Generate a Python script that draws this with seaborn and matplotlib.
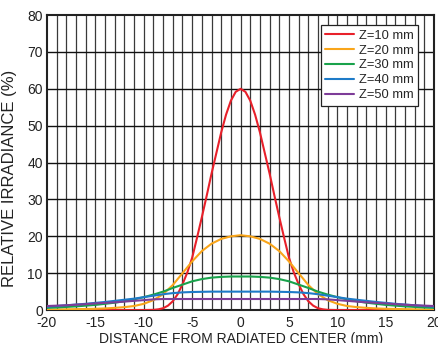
import numpy as np
import pandas as pd
import matplotlib
matplotlib.use("Agg")
import matplotlib.pyplot as plt
import seaborn as sns

# (symmetric about 0), right half given
x_red = [0, 0.5, 1, 1.5, 2, 2.5, 3, 3.5, 4, 4.5, 5, 5.5, 6, 6.5, 7, 7.5, 8, 8.5, 9, 10, 12, 15, 20]
z10 = [60, 59.2, 56.8, 53, 48.2, 42.6, 37, 31, 25.2, 19.6, 14.2, 10.2, 7, 4.3, 2.4, 1.2, 0.5, 0.2, 0.05, 0, 0, 0, 0]

x_half = list(range(0, 21))
z20 = [20.3, 20, 19.3, 18, 16, 13.2, 10, 6.8, 4.3, 2.7, 1.7, 1.1, 0.8, 0.6, 0.45, 0.35, 0.3, 0.25, 0.2, 0.15, 0.1]
z30 = [9.1, 9.1, 9.0, 8.8, 8.4, 7.8, 6.9, 6.0, 5.0, 4.2, 3.5, 2.9, 2.4, 2.0, 1.7, 1.4, 1.2, 1.0, 0.85, 0.7, 0.6]
z40 = [5, 5, 5, 5, 4.95, 4.9, 4.8, 4.6, 4.3, 3.9, 3.5, 3.1, 2.8, 2.5, 2.2, 1.95, 1.7, 1.5, 1.3, 1.1, 0.9]
z50 = [3.0, 3.0, 3.0, 3.0, 3.0, 3.0, 3.0, 3.0, 3.0, 2.9, 2.7, 2.5, 2.3, 2.1, 1.95, 1.8, 1.6, 1.45, 1.3, 1.2, 1.1]

labels = ["Z=10 mm", "Z=20 mm", "Z=30 mm", "Z=40 mm", "Z=50 mm"]
colors = ["#e8202a", "#f9a51a", "#19a24b", "#1e7bc8", "#7d3c98"]


def mirror(xs, ys):
    xs = list(xs)
    ys = list(ys)
    return [-v for v in xs[:0:-1]] + xs, ys[:0:-1] + ys


rows = []
for lab, xs, ys in zip(labels,
                       [x_red, x_half, x_half, x_half, x_half],
                       [z10, z20, z30, z40, z50]):
    mx, my = mirror(xs, ys)
    for a, b in zip(mx, my):
        rows.append({"x": a, "y": b, "series": lab})
df = pd.DataFrame(rows)

sns.set_style("white")
plt.rcParams['font.family'] = ['Liberation Sans', 'DejaVu Sans']
plt.rcParams['axes.unicode_minus'] = False

fig = plt.figure(figsize=(4.39, 3.43), dpi=100)
ax = fig.add_axes([0.107, 0.096, 0.882, 0.86])

# grid first
for v in range(-19, 20):
    ax.axvline(v, color="#3a3a3a", lw=0.9, zorder=1)
for h in range(10, 80, 10):
    ax.axhline(h, color="#111111", lw=1.0, zorder=1)

sns.lineplot(data=df, x="x", y="y", hue="series", palette=colors,
             hue_order=labels, lw=1.5, ax=ax, sort=True, estimator=None, zorder=3)

ax.set_xlim(-20, 20)
ax.set_ylim(0, 80)
ax.set_xticks(range(-20, 21, 5))
ax.set_yticks(range(0, 81, 10))
ax.tick_params(length=0, labelsize=10, colors="#222222")
ax.tick_params(axis="x", pad=4)
ax.tick_params(axis="y", pad=3)
for s in ax.spines.values():
    s.set_color("#222222")
    s.set_linewidth(1.5)
ax.set_xlabel("DISTANCE FROM RADIATED CENTER (mm)", fontsize=10, labelpad=2, color="#222222")
ax.set_ylabel("RELATIVE IRRADIANCE (%)", fontsize=12, color="#222222")
ax.yaxis.set_label_coords(-0.078, 0.445)

leg = ax.legend(loc="upper right", bbox_to_anchor=(0.959, 0.966), fontsize=9.3,
                frameon=True, fancybox=False, handlelength=2.2, handletextpad=0.4,
                labelspacing=0.22, borderpad=0.35, borderaxespad=0)
leg.get_frame().set_edgecolor("#222222")
leg.get_frame().set_linewidth(0.9)
leg.get_frame().set_alpha(1)
leg.set_title(None)

fig.savefig("out.png", dpi=100)
